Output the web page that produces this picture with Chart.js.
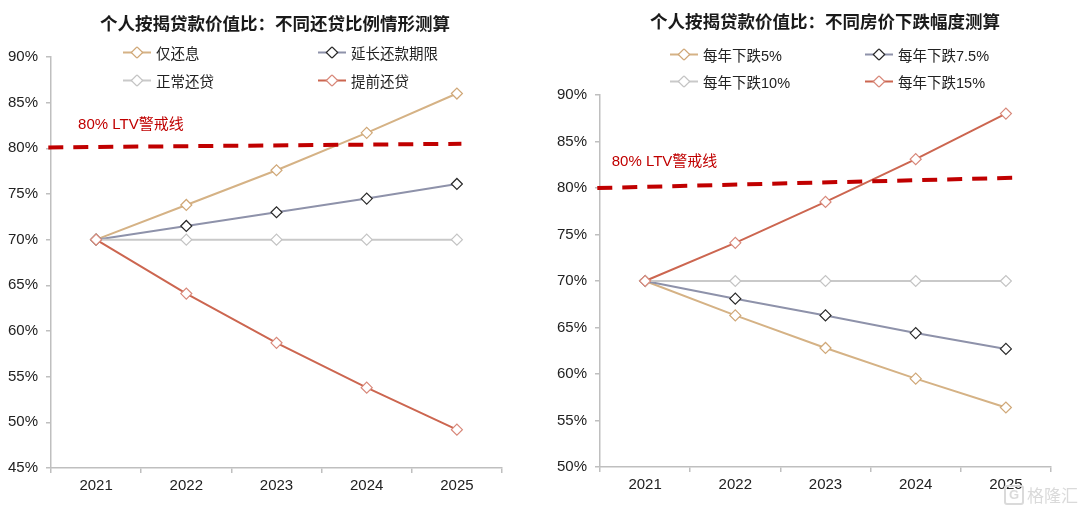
<!DOCTYPE html>
<html>
<head>
<meta charset="utf-8">
<script src="https://cdn.jsdelivr.net/npm/chart.js@4"></script>
<style>
  body { margin: 0; background: #fff; }
  #wrap { position: relative; width: 1080px; height: 513px; overflow: hidden; }
  .panel { position: absolute; top: 0; width: 540px; height: 513px; }
  .panel canvas { position: absolute; left: 0; top: 0; }
  .title {
    position: absolute; white-space: nowrap; transform: translate(-50%, -50%);
    font-family: 'Noto Sans CJK SC', sans-serif; font-weight: bold; font-size: 17.5px; color: #1a1a1a;
  }
  .legend-item {
    position: absolute; display: flex; align-items: center; transform: translateY(-50%);
    font-family: 'Liberation Sans', 'Noto Sans CJK SC', sans-serif; font-size: 14.5px; color: #222; white-space: nowrap;
  }
  .legend-item svg { margin-right: 5px; }
  .mark {
    position: absolute; display: flex; align-items: center;
    font-family: 'Noto Sans CJK SC', sans-serif; font-size: 17px; color: #dadada;
  }
  .mark b {
    display: inline-block; width: 16px; height: 16px; line-height: 16px; margin-right: 3px;
    border: 2px solid #dadada; border-radius: 3px; text-align: center; font-size: 13px;
    font-family: 'Liberation Sans', sans-serif;
  }
</style>
</head>
<body>
<div id="wrap">
  <div class="panel" id="p1" style="left:0">
    <canvas id="c1" width="540" height="513"></canvas>
  </div>
  <div class="panel" id="p2" style="left:540px">
    <canvas id="c2" width="540" height="513"></canvas>
  </div>
  <div class="mark" style="left:1004px; top:482px"><b>G</b>格隆汇</div>
</div>
<script>
// 年份
const years = ['2021', '2022', '2023', '2024', '2025'];

// 左图：不同还贷比例情形 (%)
const leftTitle = '个人按揭贷款价值比：不同还贷比例情形测算';
const leftNames = ['仅还息', '延长还款期限', '正常还贷', '提前还贷'];
const interestOnly = [70, 73.8, 77.6, 81.7, 86.0];
const extendTerm = [70, 71.5, 73.0, 74.5, 76.1];
const normalRepay = [70, 70, 70, 70, 70];
const earlyRepay = [70, 64.1, 58.7, 53.8, 49.2];
const leftTicks = [45, 90, 5]; // min, max, step

// 右图：不同房价下跌幅度 (%)
const rightTitle = '个人按揭贷款价值比：不同房价下跌幅度测算';
const rightNames = ['每年下跌5%', '每年下跌7.5%', '每年下跌10%', '每年下跌15%'];
const fall5 = [70, 66.3, 62.8, 59.5, 56.4];
const fall75 = [70, 68.1, 66.3, 64.4, 62.7];
const fall10 = [70, 70, 70, 70, 70];
const fall15 = [70, 74.1, 78.5, 83.1, 88.0];
const rightTicks = [50, 90, 5];

// 80% LTV 警戒线 (起点值, 终点值)
const ltvLabel = '80% LTV警戒线';
const ltvLeft = [80.1, 80.5];
const ltvRight = [80.0, 81.1];

const FONT = "'Liberation Sans', 'Noto Sans CJK SC', sans-serif";
const AXIS = '#bfbfbf';

// 系列样式: 线色, 点边框色
const styles = [
  { line: '#d5b285', point: '#d0a878' },
  { line: '#8e92aa', point: '#2a2a2a' },
  { line: '#c9c9c9', point: '#c4c4c4' },
  { line: '#cc6650', point: '#d8887a' }
];

function diamondSvg(st) {
  return '<svg width="28" height="12"><line x1="0" y1="6" x2="28" y2="6" stroke="' + st.line +
    '" stroke-width="2"/><rect x="10" y="2" width="8" height="8" fill="#fff" stroke="' + st.point +
    '" stroke-width="1.2" transform="rotate(45 14 6)"/></svg>';
}

function buildHeader(panelId, title, titlePos, names, cols, rows) {
  const p = document.getElementById(panelId);
  const t = document.createElement('div');
  t.className = 'title';
  t.textContent = title;
  t.style.left = titlePos[0] + 'px';
  t.style.top = titlePos[1] + 'px';
  p.appendChild(t);
  names.forEach((n, i) => {
    const d = document.createElement('div');
    d.className = 'legend-item';
    d.style.left = cols[i % 2] + 'px';
    d.style.top = rows[Math.floor(i / 2)] + 'px';
    d.innerHTML = diamondSvg(styles[i]) + '<span>' + n + '</span>';
    p.appendChild(d);
  });
}

// 在图上写警戒线文字
const ltvTextPlugin = {
  id: 'ltvText',
  afterDatasetsDraw(chart, args, opts) {
    const ctx = chart.ctx;
    const x = chart.scales.x2.getPixelForValue(opts.at[0]);
    const y = chart.scales.y.getPixelForValue(opts.at[1]);
    ctx.save();
    ctx.fillStyle = '#c00000';
    ctx.font = '15px ' + FONT;
    ctx.textBaseline = 'middle';
    ctx.fillText(ltvLabel, x, y);
    ctx.restore();
  }
};

function makeChart(canvasId, series, names, ticks, ltv, ltvEnd, textAt, pad, yWidth) {
  const datasets = series.map((s, i) => ({
    label: names[i],
    data: s,
    xAxisID: 'x',
    borderColor: styles[i].line,
    borderWidth: 2,
    pointStyle: 'rectRot',
    pointRadius: 5.5,
    pointBackgroundColor: '#fff',
    pointBorderColor: styles[i].point,
    pointBorderWidth: 1.2,
    tension: 0,
    order: 4 - i
  }));
  datasets.push({
    label: ltvLabel,
    data: [{ x: -0.006, y: ltv[0] }, { x: ltvEnd, y: ltv[1] }],
    xAxisID: 'x2',
    borderColor: '#c00000',
    borderWidth: 4,
    borderDash: [15, 10],
    pointRadius: 0,
    clip: false,
    order: 0
  });

  return new Chart(document.getElementById(canvasId), {
    type: 'line',
    data: { labels: years, datasets: datasets },
    options: {
      responsive: false,
      animation: false,
      layout: { padding: pad },
      plugins: {
        legend: { display: false },
        tooltip: { enabled: false },
        ltvText: { at: textAt }
      },
      scales: {
        x: {
          type: 'category',
          offset: true,
          grid: { offset: true, drawOnChartArea: false, tickLength: 5, color: AXIS, lineWidth: 1.5 },
          border: { color: AXIS, width: 1.5 },
          ticks: { color: '#222', font: { family: FONT, size: 15 }, padding: 4 },
          afterFit(s) { s.height = 45; }
        },
        x2: { type: 'linear', min: 0, max: 1, display: false },
        y: {
          min: ticks[0],
          max: ticks[1],
          ticks: { stepSize: ticks[2], callback: v => v + '%', color: '#222', font: { family: FONT, size: 15 }, padding: 8 },
          grid: { drawOnChartArea: false, tickLength: 5, color: AXIS, lineWidth: 1.5 },
          border: { color: AXIS, width: 1.5 },
          afterFit(s) { s.width = yWidth; }
        }
      }
    },
    plugins: [ltvTextPlugin]
  });
}

buildHeader('p1', leftTitle, [275, 22], leftNames, [123, 318], [52, 80]);
buildHeader('p2', rightTitle, [285, 20], rightNames, [130, 325], [54, 81]);

makeChart('c1', [interestOnly, extendTerm, normalRepay, earlyRepay], leftNames, leftTicks,
  ltvLeft, 0.91, [0.06, 82.6], { left: 0, right: 38, top: 57, bottom: 0 }, 51);
makeChart('c2', [fall5, fall75, fall10, fall15], rightNames, rightTicks,
  ltvRight, 0.92, [0.026, 82.8], { left: 0, right: 29, top: 95, bottom: 1 }, 60);
</script>
</body>
</html>
